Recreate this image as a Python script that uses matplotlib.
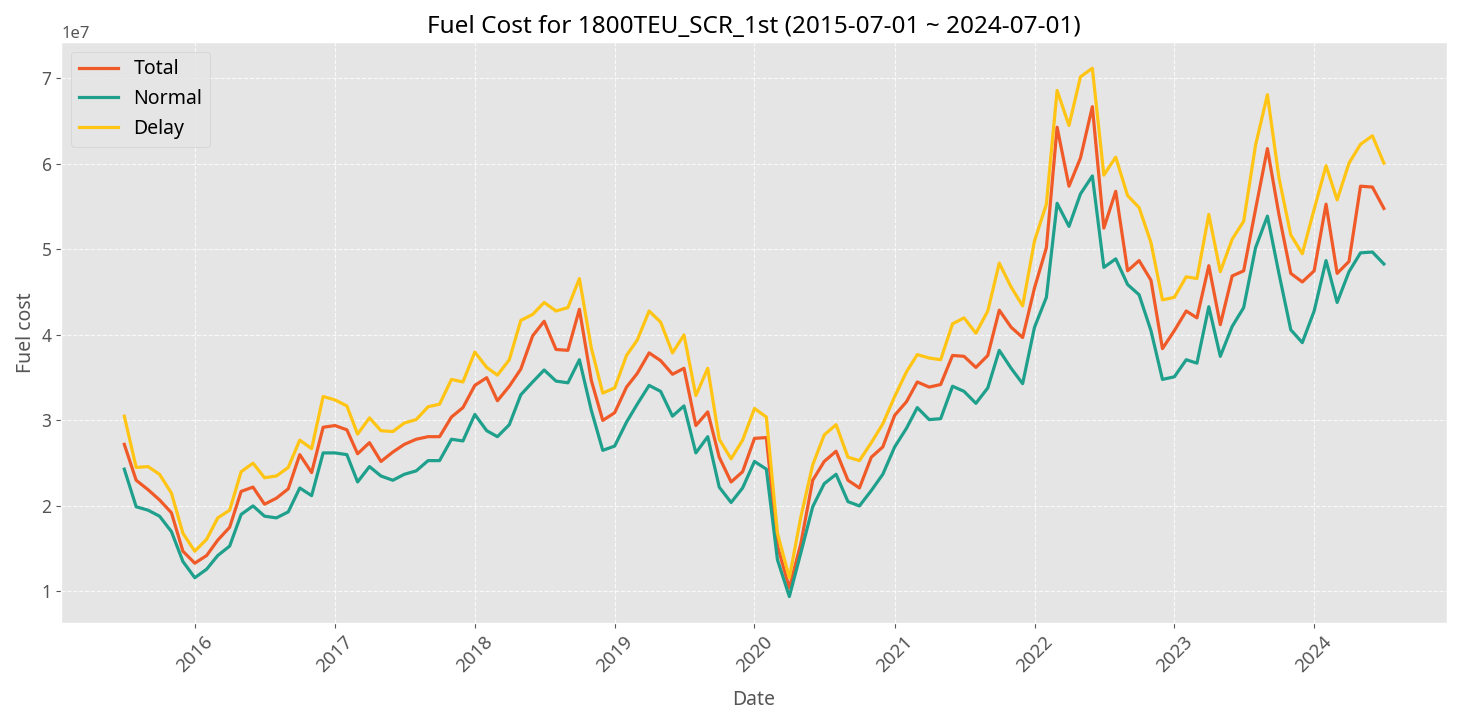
import matplotlib
matplotlib.use('Agg')
import matplotlib.pyplot as plt
import matplotlib.dates as mdates
import pandas as pd

plt.style.use('ggplot')
plt.rcParams['font.family'] = ['Noto Sans', 'DejaVu Sans']

# monthly fuel cost, in millions
total = [27.2, 23.0, 21.9, 20.7, 19.2, 14.7, 13.3, 14.2, 16.0, 17.5, 21.7, 22.2,
         20.2, 20.9, 22.0, 26.0, 23.9, 29.2, 29.4, 28.9, 26.1, 27.4, 25.2, 26.3,
         27.2, 27.8, 28.1, 28.1, 30.4, 31.5, 34.1, 35.0, 32.3, 34.0, 36.0, 39.9,
         41.6, 38.3, 38.2, 43.0, 34.7, 30.0, 30.9, 33.9, 35.5, 37.9, 37.0, 35.4,
         36.1, 29.4, 31.0, 25.7, 22.8, 24.0, 27.9, 28.0, 15.3, 10.4, 15.6, 23.0,
         25.2, 26.4, 23.0, 22.1, 25.7, 26.9, 30.6, 32.2, 34.5, 33.9, 34.2, 37.6,
         37.5, 36.2, 37.6, 42.9, 40.9, 39.7, 45.5, 50.2, 64.3, 57.4, 60.7, 66.7,
         52.5, 56.8, 47.5, 48.7, 46.4, 38.4, 40.5, 42.8, 42.0, 48.1, 41.2, 46.9,
         47.5, 54.7, 61.8, 54.1, 47.2, 46.2, 47.5, 55.3, 47.2, 48.6, 57.4, 57.3,
         54.8]
normal = [24.3, 19.9, 19.5, 18.8, 17.0, 13.5, 11.6, 12.6, 14.2, 15.3, 19.0, 20.0,
          18.8, 18.6, 19.3, 22.1, 21.2, 26.2, 26.2, 26.0, 22.8, 24.6, 23.5, 23.0,
          23.7, 24.1, 25.3, 25.3, 27.8, 27.6, 30.7, 28.8, 28.1, 29.5, 33.0, 34.5,
          35.9, 34.6, 34.4, 37.1, 31.2, 26.5, 27.0, 29.8, 31.9, 34.1, 33.4, 30.5,
          31.7, 26.2, 28.1, 22.2, 20.4, 22.1, 25.2, 24.3, 13.7, 9.4, 14.5, 19.9,
          22.6, 23.7, 20.5, 20.0, 21.8, 23.7, 26.9, 29.1, 31.5, 30.1, 30.2, 34.0,
          33.4, 32.0, 33.8, 38.2, 36.1, 34.3, 40.9, 44.4, 55.4, 52.7, 56.5, 58.6,
          47.9, 48.9, 45.9, 44.7, 40.5, 34.8, 35.1, 37.1, 36.7, 43.3, 37.5, 41.0,
          43.2, 50.2, 53.9, 47.2, 40.6, 39.1, 42.8, 48.7, 43.8, 47.4, 49.6, 49.7,
          48.3]
delay = [30.5, 24.5, 24.6, 23.7, 21.5, 16.8, 14.7, 16.1, 18.6, 19.5, 24.0, 25.0,
         23.3, 23.5, 24.5, 27.7, 26.7, 32.8, 32.4, 31.7, 28.4, 30.3, 28.8, 28.7,
         29.7, 30.1, 31.6, 31.9, 34.8, 34.5, 38.0, 36.2, 35.3, 37.1, 41.7, 42.4,
         43.8, 42.8, 43.2, 46.6, 38.5, 33.2, 33.8, 37.6, 39.4, 42.8, 41.5, 37.9,
         40.0, 32.9, 36.1, 27.8, 25.5, 27.7, 31.4, 30.4, 16.8, 11.6, 18.7, 24.8,
         28.3, 29.5, 25.7, 25.3, 27.4, 29.6, 32.8, 35.7, 37.7, 37.3, 37.1, 41.3,
         42.0, 40.2, 42.8, 48.4, 45.6, 43.4, 51.0, 55.3, 68.6, 64.5, 70.2, 71.2,
         58.7, 60.8, 56.3, 54.9, 50.8, 44.1, 44.4, 46.8, 46.6, 54.1, 47.4, 51.2,
         53.3, 62.2, 68.1, 58.4, 51.7, 49.5, 54.7, 59.8, 55.8, 60.1, 62.3, 63.3,
         60.1]

dates = pd.date_range('2015-07-01', '2024-07-01', freq='MS')
df = pd.DataFrame({'Total': total, 'Normal': normal, 'Delay': delay}, index=dates) * 1e6

colors = {'Total': '#F05A28', 'Normal': '#1FA08C', 'Delay': '#FFC414'}

fig = plt.figure(figsize=(14.6, 7.21), dpi=100)
ax = fig.add_axes([0.042, 0.136, 0.949, 0.806])

for col in ['Total', 'Normal', 'Delay']:
    ax.plot(df.index, df[col], color=colors[col], linewidth=2.3, label=col)

ax.set_title('Fuel Cost for 1800TEU_SCR_1st (2015-07-01 ~ 2024-07-01)', fontsize=17.5, color='black')
ax.set_xlabel('Date', fontsize=14, labelpad=10)
ax.set_ylabel('Fuel cost', fontsize=14)
ax.xaxis.set_major_locator(mdates.YearLocator())
ax.xaxis.set_major_formatter(mdates.DateFormatter('%Y'))
plt.setp(ax.get_xticklabels(), rotation=45, fontsize=13.5)
plt.setp(ax.get_yticklabels(), fontsize=12.5)
ax.yaxis.get_offset_text().set_fontsize(12)
ax.grid(True, linestyle='--', color='white', linewidth=0.8, alpha=0.8)
ax.legend(loc='upper left', fontsize=14, facecolor='#E5E5E5', edgecolor='#CCCCCC', framealpha=0.8)

fig.savefig('out.png', dpi=100)
